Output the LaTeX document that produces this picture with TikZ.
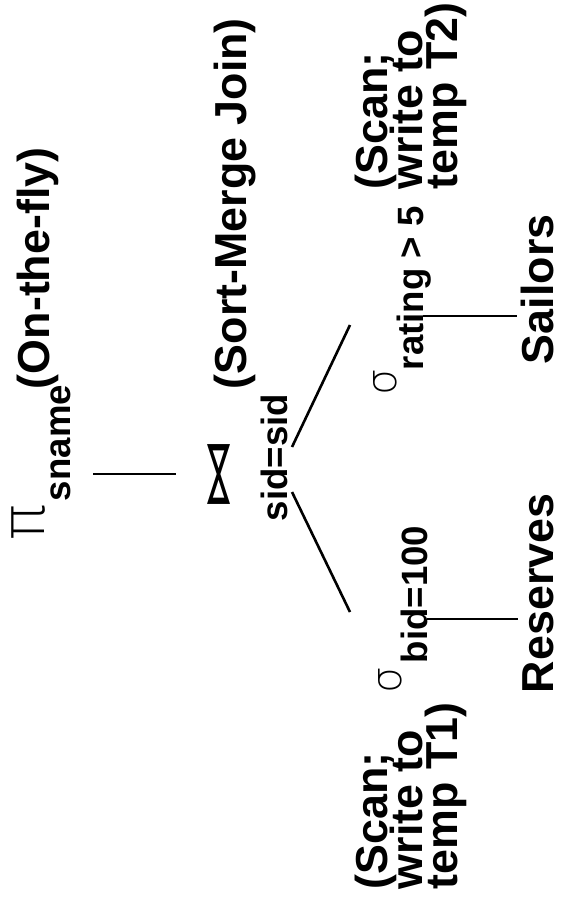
\documentclass[tikz,border=0pt]{standalone}
\usepackage{fontspec}
\usepackage{graphicx}
\setmainfont{Liberation Sans}
\newfontfamily\greekfont{DejaVuSans-ExtraLight.ttf}
\newfontfamily\relsymfont{DejaVu Sans}
\usetikzlibrary{positioning}
\lineskiplimit=-50pt

\begin{document}
\begin{tikzpicture}[x=0.5pt,y=-0.5pt]

  \tikzstyle{every node}=[inner sep=0pt, outer sep=0pt, rotate=90]
  \tikzstyle{note}=[anchor=base west, font={\fontsize{22.4}{17.5}\selectfont\bfseries}]
  \tikzstyle{cond}=[anchor=base west, font={\fontsize{18.3}{18}\selectfont\bfseries}]
  \tikzstyle{op}=[font={\fontsize{21}{21}\selectfont\greekfont}]
  \tikzstyle{arc}=[line width=1.3pt]

  \useasboundingbox (0,0) rectangle (564,901);

  %%% projection
  \node (proj) at (29,522) [op, font={\fontsize{30}{30}\selectfont\greekfont}] {π};
  \node (pcond) at (70,501) [cond] {sname};
  \node (pnote) at (49,389) [note] {(On-the-fly)};

  %%% join
  \node (join) at (219,474) {\resizebox{38pt}{11pt}{\relsymfont ⋈}};
  \node (jcond) at (287,521) [cond] {sid=sid};
  \node (jnote) at (246,389) [note] {(Sort-Merge Join)};

  %%% selections
  \node (selL) at (390,680) [op] {σ};
  \node (lcond) at (427,663) [cond] {bid=100};
  \node (lnote) at (457,889) [note, align=left] {(Scan;\\write to\\temp T1)};

  \node (selR) at (385,382) [op] {σ};
  \node (rcond) at (423,370) [cond] {rating > 5};
  \node (rnote) at (457,189) [note, align=left] {(Scan;\\write to\\temp T2)};

  %%% relations
  \node (res) at (553,693) [note] {Reserves};
  \node (sail) at (553,364) [note] {Sailors};

  %%% tree edges
  \path (pcond.south |- join) coordinate (p1) (join.north) coordinate (j0);
  \draw [arc, shorten <=11.5pt, shorten >=15.5pt] (p1) -- (j0);

  \path (292,492) coordinate (l1) (350,612) coordinate (l2);
  \path (292,447) coordinate (r1) (350,325) coordinate (r2);
  \draw [arc] (l1) -- (l2);
  \draw [arc] (r1) -- (r2);

  \path (427,619) coordinate (l3) (518,619) coordinate (l4);
  \path (423,316) coordinate (r3) (517,316) coordinate (r4);
  \draw [arc] (l3) -- (l4);
  \draw [arc] (r3) -- (r4);

\end{tikzpicture}
\end{document}
